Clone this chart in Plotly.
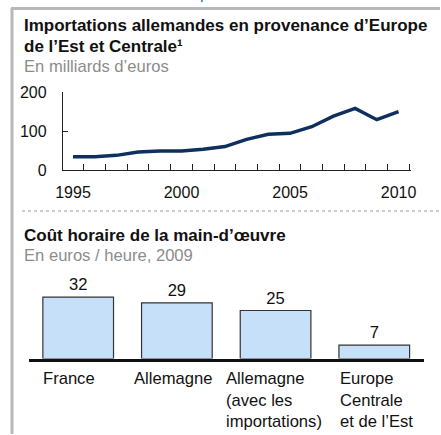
import plotly.graph_objects as go

# ---- data ----
years = list(range(1995, 2011))
imports_bn_eur = [34, 34, 37.5, 46, 48.7, 48.7, 53, 60, 78.6, 91.5, 94, 111, 138, 158, 129, 149.5]

categories = ["France", "Allemagne", "Allemagne<br>(avec les<br>importations)", "Europe<br>Centrale<br>et de l’Est"]
cost_per_hour = [32, 29, 25, 7]

year_ticks = [1995, 2000, 2005, 2010]
y_ticks = [0, 100, 200]

W, H = 441, 435
FONT = "Liberation Sans, Arial, sans-serif"
NAVY = "#0f2f5f"
GREY_TXT = "#8c8c8c"

def px_x(p):
    return p / W

def px_y(p):
    return 1 - p / H

fig = go.Figure()

fig.add_trace(go.Scatter(
    x=years, y=imports_bn_eur, mode="lines",
    line=dict(color=NAVY, width=3.5),
    xaxis="x", yaxis="y", showlegend=False, hoverinfo="skip"))

fig.add_trace(go.Bar(
    x=list(range(len(categories))), y=cost_per_hour,
    text=[str(v) for v in cost_per_hour], textposition="outside",
    textfont=dict(family=FONT, size=16.6, color="#111"),
    marker=dict(color="#c7e0fa", line=dict(color="#333", width=1.2)),
    width=0.716, cliponaxis=False,
    xaxis="x2", yaxis="y2", showlegend=False, hoverinfo="skip"))

fig.update_layout(
    width=W, height=H,
    margin=dict(l=0, r=0, t=0, b=0, pad=0, autoexpand=False),
    paper_bgcolor="white", plot_bgcolor="white",
    font=dict(family=FONT, size=16, color="#111"),
    xaxis=dict(
        domain=[px_x(63), px_x(410.7)], range=[1994.54, 2010.56],
        tickmode="array", tickvals=year_ticks, ticktext=[str(t) for t in year_ticks],
        ticks="", showgrid=False, zeroline=False, automargin=False,
        showline=True, linecolor="#222", linewidth=1.3,
        minor=dict(ticks="inside", tick0=1995.5, dtick=1, ticklen=6,
                   tickcolor="#222", tickwidth=1.2, showgrid=False),
        tickfont=dict(size=16, color="#111"), ticklabelstandoff=8,
        anchor="y"),
    yaxis=dict(
        domain=[px_y(170), px_y(92)], range=[0, 200],
        tickmode="array", tickvals=y_ticks,
        ticks="inside", ticklen=5, tickcolor="#222", tickwidth=1.2,
        showgrid=False, zeroline=False, automargin=False,
        showline=True, linecolor="#222", linewidth=1.3,
        tickfont=dict(size=16, color="#111"), ticklabelstandoff=12,
        anchor="x"),
    xaxis2=dict(
        domain=[px_x(28.85), px_x(423.6)], range=[-0.5, 3.5],
        showticklabels=False, ticks="", showgrid=False, zeroline=False,
        automargin=False,
        showline=True, linecolor="#111", linewidth=2.5,
        anchor="y2"),
    yaxis2=dict(
        domain=[px_y(358.5), px_y(358.5 - 76.8)], range=[0, 40],
        visible=False, showgrid=False, zeroline=False, automargin=False,
        anchor="x2"),
    bargap=0.284,
)

ann = []
def text(x_px, top_px, s, size, bold=False, color="#111"):
    ann.append(dict(
        x=px_x(x_px), y=px_y(top_px), xref="paper", yref="paper",
        xanchor="left", yanchor="top", showarrow=False, align="left",
        text=f"<b>{s}</b>" if bold else s,
        font=dict(family=FONT, size=size, color=color)))

text(22, 14.3, "Importations allemandes en provenance d’Europe", 17, bold=True)
text(22, 34.6, "de l’Est et Centrale¹", 17, bold=True)
text(22, 55, "En milliards d’euros", 16.6, color=GREY_TXT)
text(22, 224.3, "Coût horaire de la main-d’œuvre", 17, bold=True)
text(22, 244, "En euros / heure, 2009", 16.6, color=GREY_TXT)

label_shift = [-9, -4, -2, 2]
for i, c in enumerate(categories):
    ann.append(dict(
        x=i, y=px_y(367), xref="x2", yref="paper",
        xanchor="center", yanchor="top", align="left", showarrow=False,
        xshift=label_shift[i], text=c,
        font=dict(family=FONT, size=16.6, color="#111")))

# clipped glyph from the page above
ann.append(dict(x=px_x(198), y=1 + 17.5 / H, xref="paper", yref="paper",
                xanchor="left", yanchor="top", showarrow=False, text="p",
                font=dict(family=FONT, size=16, color="#1a6fdc")))

fig.update_layout(annotations=ann)

shapes = [
    dict(type="line", xref="paper", yref="paper", x0=px_x(12), x1=px_x(12),
         y0=px_y(8), y1=px_y(434), line=dict(color="#b8b8b8", width=3)),
    dict(type="line", xref="paper", yref="paper", x0=px_x(11), x1=px_x(440),
         y0=px_y(8.5), y1=px_y(8.5), line=dict(color="#b8b8b8", width=3)),
    dict(type="line", xref="paper", yref="paper", x0=px_x(22), x1=1,
         y0=px_y(211), y1=px_y(211), line=dict(color="#9a9a9a", width=1, dash="dot")),
]
fig.update_layout(shapes=shapes)

fig.write_html(
    "out.html",
    config={"displayModeBar": False},
    post_script="document.body.style.margin='0';document.body.style.overflow='hidden';",
)
